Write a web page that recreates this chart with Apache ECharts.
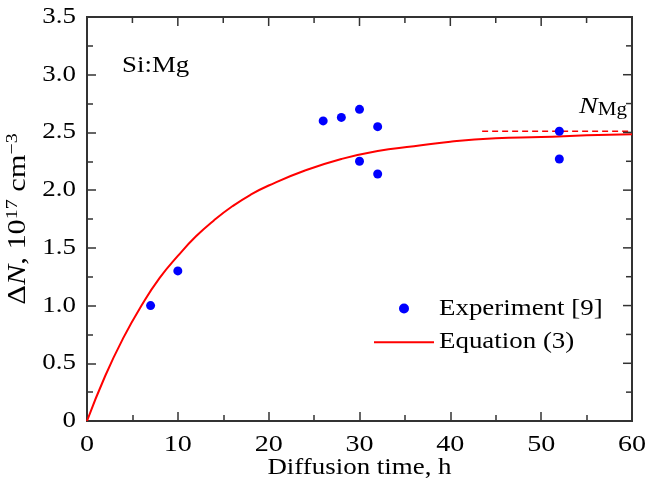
<!DOCTYPE html>
<html><head><meta charset="utf-8">
<script src="https://cdn.jsdelivr.net/npm/echarts@6/dist/echarts.min.js"></script>
<style>html,body{margin:0;padding:0;background:#fff}#c{width:645px;height:490px}</style>
</head><body><div id="c"></div>
<script>
// Experimental points (diffusion time h, ΔN 1e17 cm^-3)
const expTime = [7, 10, 26, 28, 30, 30, 32, 32, 52, 52];
const expDN   = [1.0, 1.3, 2.6, 2.63, 2.7, 2.25, 2.55, 2.14, 2.51, 2.27];
// Equation (3) curve
const eqTime = [0, 2, 4, 6, 8, 10, 12, 14, 16, 18, 20, 24, 28, 32, 36, 40, 45, 50, 55, 60];
const eqDN   = [0, 0.39, 0.72, 1.0, 1.24, 1.43, 1.6, 1.74, 1.86, 1.96, 2.04, 2.17, 2.27, 2.34, 2.38, 2.42, 2.45, 2.46, 2.475, 2.485];
// N_Mg saturation level (dashed)
const nmgTime = [43.5, 60];
const nmgDN   = [2.51, 2.51];
// Tick values (mirrored on top / right frame edges)
const xMajorTicks = [0, 10, 20, 30, 40, 50, 60];
const xMinorTicks = [5, 15, 25, 35, 45, 55];
const yMajorTicks = [0, 0.5, 1.0, 1.5, 2.0, 2.5, 3.0, 3.5];
const yMinorTicks = [0.25, 0.75, 1.25, 1.75, 2.25, 2.75, 3.25];

// The reference typeface is set wide: stretch text horizontally (still real text)
(function(){
  const S = 1.17;
  const P = CanvasRenderingContext2D.prototype;
  const mt = P.measureText, ft = P.fillText, st = P.strokeText;
  P.measureText = function(t){
    const m = mt.call(this, t);
    return {width: m.width * S,
      actualBoundingBoxAscent: m.actualBoundingBoxAscent, actualBoundingBoxDescent: m.actualBoundingBoxDescent,
      actualBoundingBoxLeft: m.actualBoundingBoxLeft * S, actualBoundingBoxRight: m.actualBoundingBoxRight * S,
      fontBoundingBoxAscent: m.fontBoundingBoxAscent, fontBoundingBoxDescent: m.fontBoundingBoxDescent};
  };
  P.fillText = function(t, x, y, mw){
    this.save(); this.translate(x, y); this.scale(S, 1);
    ft.call(this, t, 0, 0); this.restore();
  };
  P.strokeText = function(t, x, y, mw){
    this.save(); this.translate(x, y); this.scale(S, 1);
    st.call(this, t, 0, 0); this.restore();
  };
})();

const FONT = 'Liberation Serif';
const FS = 23;
const axisCol = '#333';
const tickLine = {color:axisCol, width:1.5};

const textElems = [
  {type:'text', left:122, top:52, style:{text:'Si:Mg', fontFamily:FONT, fontSize:FS, fill:'#000'}},
  {type:'text', left:579, top:93, style:{
    text:'{i|N}{s|Mg}', fontFamily:FONT,
    rich:{ i:{fontFamily:FONT, fontSize:24, fontStyle:'italic', fill:'#000', lineHeight:28, verticalAlign:'top'},
           s:{fontFamily:FONT, fontSize:18, fill:'#000', lineHeight:28, verticalAlign:'bottom'} }}}
];

const chart = echarts.init(document.getElementById('c'), null, {renderer:'canvas'});
chart.setOption({
  animation:false,
  backgroundColor:'#fff',
  grid:{left:87, right:13, top:17, bottom:69, outerBoundsMode:'none', containLabel:false,
        show:true, borderColor:axisCol, borderWidth:2, backgroundColor:'transparent'},
  xAxis:{type:'value', position:'bottom', min:0, max:60, interval:10,
    axisLine:{show:true, onZero:false, lineStyle:{color:axisCol, width:2}},
    axisTick:{show:true, inside:true, length:9, lineStyle:tickLine},
    minorTick:{show:true, splitNumber:2, length:6, lineStyle:tickLine},
    splitLine:{show:false},
    axisLabel:{show:true, fontFamily:FONT, fontSize:24, color:'#000', margin:10},
    name:'Diffusion time, h', nameLocation:'middle', nameGap:33, nameMoveOverlap:false,
    nameTextStyle:{fontFamily:FONT, fontSize:FS, color:'#000'}},
  yAxis:{type:'value', position:'left', min:0, max:3.5, interval:0.5,
    axisLine:{show:true, onZero:false, lineStyle:{color:axisCol, width:2}},
    axisTick:{show:true, inside:true, length:9, lineStyle:tickLine},
    minorTick:{show:true, splitNumber:2, length:6, lineStyle:tickLine},
    splitLine:{show:false},
    axisLabel:{show:true, fontFamily:FONT, fontSize:FS, color:'#000', margin:11,
      formatter: v => v === 0 ? '0' : v.toFixed(1)},
    name:'{d|Δ}{i|N}{d|, 10}{s|17}{d| cm}{s|−3}', nameLocation:'middle', nameGap:54, nameRotate:90,
    nameMoveOverlap:false,
    nameTextStyle:{fontFamily:FONT, fontSize:FS, color:'#000',
      rich:{
        d:{fontFamily:FONT, fontSize:26, color:'#000', lineHeight:30, verticalAlign:'bottom'},
        i:{fontFamily:FONT, fontSize:26, fontStyle:'italic', color:'#000', lineHeight:30, verticalAlign:'bottom'},
        s:{fontFamily:FONT, fontSize:17, color:'#000', lineHeight:30, verticalAlign:'top'}
      }}},
  legend:{
    orient:'vertical', left:368, top:290, itemWidth:60, itemHeight:10, itemGap:7,
    textStyle:{fontFamily:FONT, fontSize:FS, color:'#000'},
    data:[{name:'Experiment [9]'}, {name:'Equation (3)', itemStyle:{opacity:0}}]
  },
  graphic: textElems,
  series:[
    {name:'Equation (3)', type:'line', data:eqTime.map((t,i)=>[t, eqDN[i]]), smooth:true, symbol:'none',
      lineStyle:{color:'#ff0000', width:2}, itemStyle:{color:'#ff0000'}, z:2},
    {name:'Experiment [9]', type:'scatter', data:expTime.map((t,i)=>[t, expDN[i]]), symbol:'circle', symbolSize:9,
      itemStyle:{color:'#0000ff', opacity:1}, z:3},
    {name:'N_Mg', type:'line', data:nmgTime.map((t,i)=>[t, nmgDN[i]]), symbol:'none',
      lineStyle:{color:'#ff0000', width:1.5, type:[6,4]}, z:2}
  ]
});

// Mirror ticks on the top and right frame edges, positioned through the axis scales
(function(){
  const topY = chart.convertToPixel({yAxisIndex:0}, 3.5);
  const rightX = chart.convertToPixel({xAxisIndex:0}, 60);
  const ticks = [];
  const mk = (x1, y1, x2, y2) => ({type:'line', silent:true, z:10,
    shape:{x1:x1, y1:y1, x2:x2, y2:y2}, style:{stroke:axisCol, lineWidth:1.5}});
  xMajorTicks.forEach(v => { const px = chart.convertToPixel({xAxisIndex:0}, v); ticks.push(mk(px, topY, px, topY + 9)); });
  xMinorTicks.forEach(v => { const px = chart.convertToPixel({xAxisIndex:0}, v); ticks.push(mk(px, topY, px, topY + 6)); });
  yMajorTicks.forEach(v => { const py = chart.convertToPixel({yAxisIndex:0}, v); ticks.push(mk(rightX, py, rightX - 9, py)); });
  yMinorTicks.forEach(v => { const py = chart.convertToPixel({yAxisIndex:0}, v); ticks.push(mk(rightX, py, rightX - 6, py)); });
  chart.setOption({graphic: textElems.concat(ticks)});
})();
</script></body></html>
